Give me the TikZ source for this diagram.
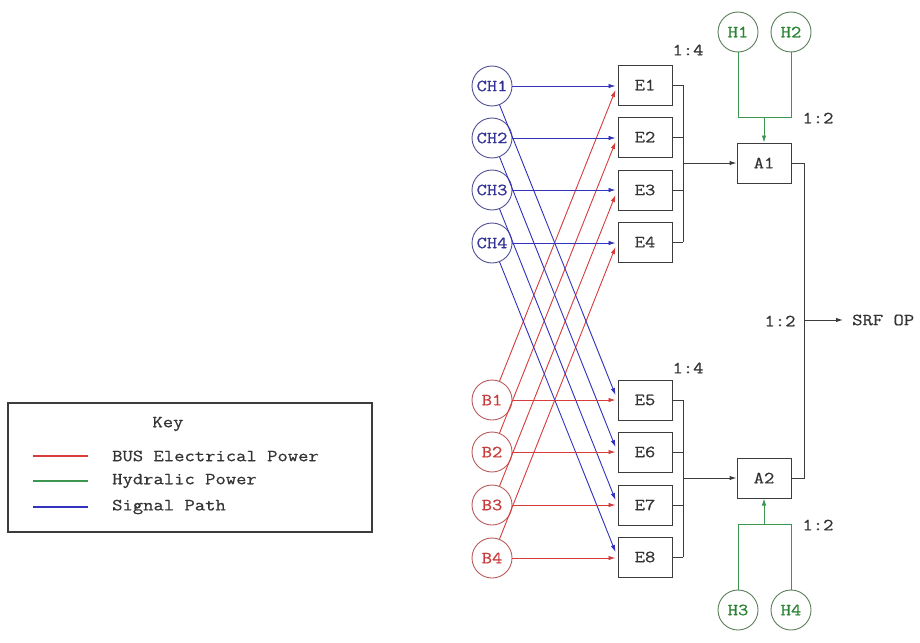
\documentclass[tikz,border=0pt]{standalone}
\usepackage{fontspec}
\newfontfamily\monof[FakeStretch=1.18,FakeBold=0.6]{Latin Modern Mono}
\usetikzlibrary{arrows.meta,calc}
\definecolor{sigblue}{RGB}{50,50,190}
\definecolor{busred}{RGB}{215,60,60}
\definecolor{hydgreen}{RGB}{60,150,80}
\definecolor{chcirc}{RGB}{80,80,150}
\definecolor{bcirc}{RGB}{185,90,90}
\definecolor{hcirc}{RGB}{90,125,90}
\definecolor{chtext}{RGB}{50,50,150}
\definecolor{btext}{RGB}{200,60,60}
\definecolor{htext}{RGB}{40,130,50}
\definecolor{boxgray}{RGB}{60,60,60}
\tikzset{
  txt/.style={font=\monof\fontsize{17}{17}\selectfont, text=black!80},
  chnode/.style={circle, draw=chcirc, line width=0.9pt, minimum size=40pt, inner sep=0pt, txt, text=chtext},
  bnode/.style={circle, draw=bcirc, line width=0.9pt, minimum size=40pt, inner sep=0pt, txt, text=btext},
  hnode/.style={circle, draw=hcirc, line width=0.9pt, minimum size=40pt, inner sep=0pt, txt, text=htext},
  ebox/.style={rectangle, draw=boxgray, line width=1pt, minimum width=54pt, minimum height=40pt, inner sep=0pt, txt},
  tip/.style={-{Latex[length=7pt,width=4.5pt]}},
  sig/.style={draw=sigblue, line width=0.9pt, tip},
  pwr/.style={draw=busred, line width=0.9pt, tip},
  hyd/.style={draw=hydgreen, line width=0.9pt},
  bus/.style={draw=boxgray, line width=1pt},
  lbl/.style={txt, inner sep=1pt}
}
\begin{document}
\begin{tikzpicture}[x=1pt,y=-1pt]
\useasboundingbox (0,0) rectangle (920,642);
\fill[white] (0,0) rectangle (920,642);

% sources
\node[chnode] (CH1) at (492,86) {CH1};
\node[chnode] (CH2) at (492,138) {CH2};
\node[chnode] (CH3) at (492,190) {CH3};
\node[chnode] (CH4) at (492,243) {CH4};
\node[bnode] (B1) at (492,400) {B1};
\node[bnode] (B2) at (492,452) {B2};
\node[bnode] (B3) at (492,505) {B3};
\node[bnode] (B4) at (492,558) {B4};

% E boxes
\node[ebox] (E1) at (645,85) {E1};
\node[ebox] (E2) at (645,137) {E2};
\node[ebox] (E3) at (645,190) {E3};
\node[ebox] (E4) at (645,242) {E4};
\node[ebox] (E5) at (645,400) {E5};
\node[ebox] (E6) at (645,452) {E6};
\node[ebox] (E7) at (645,505) {E7};
\node[ebox] (E8) at (645,557) {E8};

% actuators
\node[ebox] (A1) at (764,163) {A1};
\node[ebox] (A2) at (764,478) {A2};

% hydraulic
\node[hnode] (H1) at (738,32) {H1};
\node[hnode] (H2) at (791,32) {H2};
\node[hnode] (H3) at (738,610) {H3};
\node[hnode] (H4) at (791,610) {H4};

% red diagonals B_i -> E_i
\foreach \i in {1,...,4}{
  \draw[pwr] (B\i) -- ($(E\i.west)+(-2,5)$);
}
% blue diagonals CH_i -> E_{i+4}
\foreach \i/\j in {1/5,2/6,3/7,4/8}{
  \draw[sig] (CH\i) -- ($(E\j.west)+(-2,-5)$);
}
% horizontals
\foreach \i in {1,...,4}{
  \draw[sig] (CH\i.east) -- ($(CH\i.east -| E\i.west)+(-2,0)$);
}
\foreach \i/\j in {1/5,2/6,3/7,4/8}{
  \draw[pwr] (B\i.east) -- ($(B\i.east -| E\j.west)+(-2,0)$);
}

% buses
\coordinate (busT) at (683,163);
\coordinate (busB) at (683,478);
\foreach \i in {1,...,4}{ \draw[bus] (E\i.east) -- (E\i.east -| busT); }
\foreach \i in {5,...,8}{ \draw[bus] (E\i.east) -- (E\i.east -| busB); }
\draw[bus] (E1.east -| busT) -- (E4.east -| busT);
\draw[bus] (E5.east -| busB) -- (E8.east -| busB);
\draw[bus, tip] (busT) -- (A1.west);
\draw[bus, tip] (busB) -- (A2.west);

% output
\coordinate (oT) at (804,163);
\coordinate (oB) at (804,478);
\coordinate (oM) at (804,320);
\coordinate (srf) at (843,320);
\draw[bus] (A1.east) -- (oT) -- (oB) -- (A2.east);
\draw[bus, tip] (oM) -- (srf);
\node[lbl, anchor=west] (srfop) at (851,320) {SRF OP};
\node[lbl] (r3) at (780,321) {1:2};

% hydraulic to actuators
\coordinate (hT1) at (738,117);
\coordinate (hT2) at (791,117);
\coordinate (hTm) at (764,117);
\draw[hyd] (H1.south) -- (hT1) -- (hT2) -- (H2.south);
\draw[hyd, tip] (hTm) -- (A1.north);
\node[lbl] (r1) at (818,118) {1:2};
\coordinate (hB1) at (738,524);
\coordinate (hB2) at (791,524);
\coordinate (hBm) at (764,524);
\draw[hyd] (H3.north) -- (hB1) -- (hB2) -- (H4.north);
\draw[hyd, tip] (hBm) -- (A2.south);
\node[lbl] (r2) at (818,525) {1:2};

% ratios
\node[lbl] (q1) at (688,50) {1:4};
\node[lbl] (q2) at (688,368) {1:4};

% key
\draw[draw=boxgray, line width=1.2pt] (8,403) rectangle (372,532);
\node[lbl] (key) at (168,424) {Key};
\coordinate (k1a) at (33,456); \coordinate (k1b) at (88,456);
\coordinate (k2a) at (33,481); \coordinate (k2b) at (88,481);
\coordinate (k3a) at (33,507); \coordinate (k3b) at (88,507);
\draw[draw=busred, line width=1.3pt] (k1a) -- (k1b);
\draw[draw=hydgreen, line width=1.3pt] (k2a) -- (k2b);
\draw[draw=sigblue, line width=1.3pt] (k3a) -- (k3b);
\node[lbl, anchor=west] (t1) at (111,456) {BUS Electrical Power};
\node[lbl, anchor=west] (t2) at (111,481) {Hydralic Power};
\node[lbl, anchor=west] (t3) at (111,507) {Signal Path};
\end{tikzpicture}
\end{document}
